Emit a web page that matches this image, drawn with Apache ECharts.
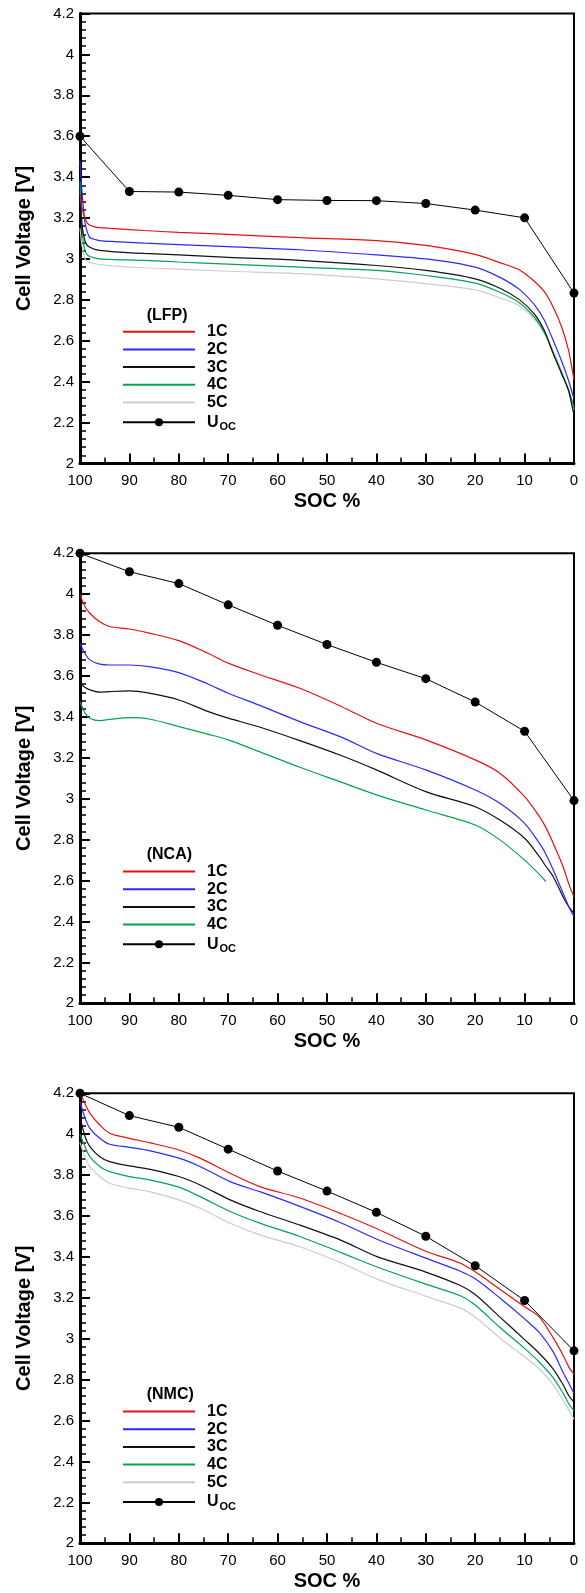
<!DOCTYPE html>
<html>
<head>
<meta charset="utf-8">
<script src="https://cdn.jsdelivr.net/npm/echarts@6/dist/echarts.min.js"></script>
<style>
html, body { margin: 0; padding: 0; background: #fff; }
#main { width: 585px; height: 1593px; }
</style>
</head>
<body>
<div id="main"></div>
<script>
// rates and colours
var rateNames = ['1C', '2C', '3C', '4C', '5C'];
var rateColors = ['#e81010', '#2a2aff', '#111111', '#00a550', '#cccccc'];

// open circuit voltage points
var uocSoc = [100, 90, 80, 70, 60, 50, 40, 30, 20, 10, 0];
var lfpUoc = [3.6, 3.33, 3.327, 3.311, 3.29, 3.286, 3.285, 3.271, 3.239, 3.201, 2.833];
var ncaUoc = [4.2, 4.11, 4.052, 3.948, 3.848, 3.754, 3.667, 3.587, 3.473, 3.33, 2.991];
var nmcUoc = [4.2, 4.091, 4.034, 3.927, 3.82, 3.722, 3.618, 3.501, 3.357, 3.187, 2.941];

// LFP discharge curves
var lfpSoc = [100, 99.5, 99, 98.5, 98, 97, 96, 93, 87, 80, 70, 55.5, 40, 30, 20, 15, 11, 8, 6, 4.2, 2.5, 1.1, 0.3, 0];
var lfp1C = [3.32, 3.24, 3.2, 3.175, 3.165, 3.157, 3.153, 3.148, 3.139, 3.13, 3.12, 3.104, 3.09, 3.066, 3.022, 2.982, 2.946, 2.89, 2.84, 2.764, 2.667, 2.553, 2.45, 2.41];
var lfp2C = [3.48, 3.3, 3.18, 3.13, 3.105, 3.095, 3.09, 3.085, 3.077, 3.07, 3.06, 3.045, 3.02, 3.0, 2.96, 2.91, 2.85, 2.775, 2.7, 2.601, 2.5, 2.406, 2.34, 2.32];
var lfp3C = [3.28, 3.15, 3.09, 3.065, 3.057, 3.047, 3.042, 3.035, 3.027, 3.02, 3.008, 2.993, 2.968, 2.944, 2.903, 2.857, 2.8, 2.73, 2.65, 2.536, 2.438, 2.357, 2.27, 2.24];
var lfp4C = [3.38, 3.12, 3.04, 3.02, 3.012, 3.005, 3.0, 2.997, 2.993, 2.985, 2.975, 2.96, 2.944, 2.919, 2.882, 2.837, 2.785, 2.715, 2.64, 2.54, 2.445, 2.36, 2.3, 2.27];
var lfp5C = [3.15, 3.05, 3.0, 2.99, 2.982, 2.977, 2.972, 2.965, 2.957, 2.95, 2.94, 2.928, 2.903, 2.879, 2.849, 2.81, 2.77, 2.705, 2.635, 2.553, 2.45, 2.35, 2.28, 2.26];

// NCA discharge curves
var ncaSoc = [100, 99, 98, 96, 94, 90, 86, 80, 74, 70, 64, 55.5, 47, 40, 30, 20, 15, 10, 7, 5.7, 4.2, 2.2, 1, 0];
var nca1C = [3.997, 3.94, 3.907, 3.865, 3.842, 3.83, 3.81, 3.773, 3.71, 3.663, 3.61, 3.54, 3.45, 3.369, 3.288, 3.19, 3.125, 3.01, 2.913, 2.86, 2.782, 2.668, 2.58, 2.52];
var nca2C = [3.76, 3.71, 3.679, 3.658, 3.654, 3.654, 3.646, 3.617, 3.56, 3.516, 3.46, 3.377, 3.3, 3.222, 3.141, 3.043, 2.978, 2.88, 2.782, 2.73, 2.652, 2.538, 2.47, 2.424];
var nca3C = [3.565, 3.545, 3.532, 3.521, 3.524, 3.527, 3.516, 3.483, 3.426, 3.394, 3.353, 3.284, 3.21, 3.141, 3.035, 2.961, 2.896, 2.807, 2.717, 2.67, 2.619, 2.52, 2.47, 2.44];
var nca4C = [3.475, 3.42, 3.394, 3.382, 3.388, 3.397, 3.39, 3.353, 3.315, 3.288, 3.233, 3.154, 3.08, 3.019, 2.945, 2.872, 2.799, 2.7, 2.63, 2.595, null, null, null, null];

// NMC discharge curves
var nmcSoc = [100, 99, 98, 96, 94, 90, 86, 80, 75.7, 69.6, 63.6, 55.5, 47, 40, 30, 23, 20, 15, 10, 7, 4.2, 2.2, 1, 0];
var nmc1C = [4.2, 4.15, 4.103, 4.045, 4.005, 3.98, 3.959, 3.923, 3.883, 3.809, 3.744, 3.688, 3.61, 3.539, 3.428, 3.369, 3.327, 3.242, 3.157, 3.106, 3.004, 2.919, 2.86, 2.826];
var nmc2C = [4.16, 4.08, 4.029, 3.98, 3.951, 3.936, 3.92, 3.883, 3.842, 3.768, 3.719, 3.647, 3.565, 3.488, 3.394, 3.33, 3.293, 3.199, 3.097, 3.03, 2.936, 2.835, 2.78, 2.733];
var nmc3C = [4.09, 3.99, 3.939, 3.89, 3.866, 3.845, 3.829, 3.793, 3.752, 3.679, 3.622, 3.556, 3.48, 3.403, 3.326, 3.26, 3.216, 3.106, 2.996, 2.928, 2.852, 2.775, 2.72, 2.69];
var nmc4C = [4.0, 3.94, 3.89, 3.842, 3.817, 3.793, 3.777, 3.741, 3.695, 3.622, 3.565, 3.5, 3.42, 3.352, 3.267, 3.21, 3.165, 3.055, 2.953, 2.885, 2.809, 2.733, 2.68, 2.648];
var nmc5C = [3.96, 3.89, 3.842, 3.793, 3.76, 3.736, 3.719, 3.679, 3.638, 3.565, 3.508, 3.45, 3.37, 3.293, 3.208, 3.15, 3.106, 3.004, 2.911, 2.852, 2.775, 2.699, 2.65, 2.606];

var panels = [
    {label: '(LFP)', top: 13.5, soc: lfpSoc, curves: [lfp1C, lfp2C, lfp3C, lfp4C, lfp5C], uoc: lfpUoc},
    {label: '(NCA)', top: 553.3, soc: ncaSoc, curves: [nca1C, nca2C, nca3C, nca4C], uoc: ncaUoc},
    {label: '(NMC)', top: 1093.3, soc: nmcSoc, curves: [nmc1C, nmc2C, nmc3C, nmc4C, nmc5C], uoc: nmcUoc}
];

function pairs(xs, ys) {
    var out = [];
    for (var i = 0; i < xs.length; i++) {
        if (ys[i] != null) out.push([xs[i], ys[i]]);
    }
    return out;
}

// thin bar used as legend icon for the plain curves
var lineIcon = 'path://M0,0L72,0L72,2L0,2Z';
var font = 'Liberation Sans, Arial, Helvetica, sans-serif';
var grids = [], xAxes = [], yAxes = [], series = [], legends = [], titles = [];

panels.forEach(function (p, k) {
    grids.push({left: 80, width: 494, top: p.top, height: 450, show: true, borderColor: '#000', borderWidth: 2, backgroundColor: 'transparent'});
    xAxes.push({
        type: 'value', gridIndex: k, min: 0, max: 100, interval: 10, inverse: true,
        name: 'SOC %', nameLocation: 'middle', nameGap: 28,
        nameTextStyle: {fontFamily: font, fontWeight: 'bold', fontSize: 20, color: '#000'},
        axisLine: {onZero: false, lineStyle: {color: '#000', width: 3}},
        axisTick: {inside: true, length: 10, lineStyle: {color: '#000', width: 2}},
        minorTick: {show: true, splitNumber: 2, length: 6, lineStyle: {color: '#000', width: 1.5}},
        axisLabel: {fontFamily: font, fontSize: 15, color: '#000', margin: 10},
        splitLine: {show: false}
    });
    yAxes.push({
        type: 'value', gridIndex: k, min: 2, max: 4.2, interval: 0.2,
        name: 'Cell Voltage [V]', nameLocation: 'middle', nameGap: 46,
        nameTextStyle: {fontFamily: font, fontWeight: 'bold', fontSize: 20, color: '#000'},
        axisLine: {onZero: false, lineStyle: {color: '#000', width: 3}},
        axisTick: {inside: true, length: 10, lineStyle: {color: '#000', width: 2}},
        minorTick: {show: true, splitNumber: 5, length: 6, lineStyle: {color: '#000', width: 1.5}},
        axisLabel: {fontFamily: font, fontSize: 15, color: '#000', margin: 6},
        splitLine: {show: false}
    });
    var items = [];
    p.curves.forEach(function (vals, j) {
        items.push({name: rateNames[j], icon: lineIcon});
        series.push({
            type: 'line', name: rateNames[j], xAxisIndex: k, yAxisIndex: k,
            data: pairs(p.soc, vals), symbol: 'none', smooth: 0.3,
            lineStyle: {color: rateColors[j], width: 1.2}, itemStyle: {color: rateColors[j]},
            z: 3 + (p.curves.length - j)
        });
    });
    items.push({name: 'Uoc'});
    series.push({
        type: 'line', name: 'Uoc', xAxisIndex: k, yAxisIndex: k,
        data: pairs(uocSoc, p.uoc), symbol: 'circle', symbolSize: 9, clip: false,
        lineStyle: {color: '#000', width: 1}, itemStyle: {color: '#000'}, z: 10
    });
    titles.push({
        text: p.label, left: 146.7, top: p.top + 293.7, padding: 0,
        textStyle: {fontFamily: font, fontWeight: 'bold', fontSize: 16, color: '#000'}
    });
    legends.push({
        data: items, orient: 'vertical', left: 122, top: p.top + 310.2,
        itemWidth: 72, itemHeight: 10, itemGap: 1.7, padding: 0,
        selectedMode: false,
        lineStyle: {width: 2},
        textStyle: {
            fontFamily: font, fontWeight: 'bold', fontSize: 16, color: '#000', lineHeight: 16,
            padding: [0, 0, 0, 7],
            rich: {
                u: {fontFamily: font, fontWeight: 'bold', fontSize: 16, color: '#000', lineHeight: 16},
                s: {fontFamily: font, fontWeight: 'bold', fontSize: 11, color: '#000', lineHeight: 16, padding: [9, 0, 0, 1]}
            }
        },
        formatter: function (name) { return name === 'Uoc' ? '{u|U}{s|OC}' : name; }
    });
});

var chart = echarts.init(document.getElementById('main'), null, {renderer: 'canvas'});
chart.setOption({
    animation: false,
    backgroundColor: '#fff',
    title: titles,
    legend: legends,
    grid: grids,
    xAxis: xAxes,
    yAxis: yAxes,
    series: series
});
</script>
</body>
</html>
